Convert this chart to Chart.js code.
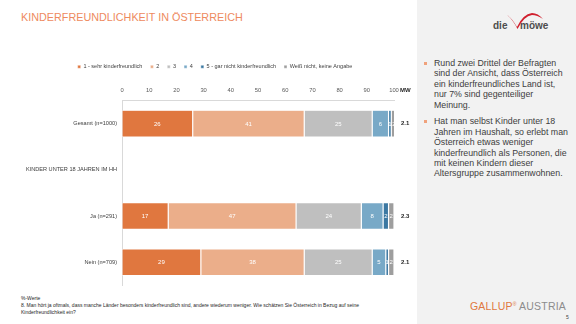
<!DOCTYPE html>
<html>
<head>
<meta charset="utf-8">
<script src="https://cdn.jsdelivr.net/npm/chart.js@4.4.1/dist/chart.umd.min.js"></script>
<style>
  html, body { margin: 0; padding: 0; background: #fff; }
  body { width: 576px; height: 324px; position: relative; overflow: hidden; font-family: "Liberation Sans", Arial, sans-serif; }
  #title { position: absolute; left: 21px; top: 11px; font-size: 10.8px; color: #EE8A5E; }
  #panel { position: absolute; left: 417px; top: 0; width: 159px; height: 324px; background: #F2F2F2; }
  #bullets { position: absolute; left: 424px; top: 58px; width: 152px; font-size: 8.8px; line-height: 10.4px; color: #404040; white-space: nowrap; }
  #bullets p { margin: 0 0 6.3px 0; padding-left: 10px; position: relative; }
  #bullets p::before { content: ""; position: absolute; left: 0; top: 4px; width: 2.5px; height: 2.5px; background: #F0A27C; }
  #logo1 { position: absolute; left: 490px; top: 8px; }
  #gallup { position: absolute; left: 470px; top: 300px; font-size: 10.5px; letter-spacing: 0.2px; }
  #gallup .g { color: #E0773F; }
  #gallup .a { color: #8C8C8C; }
  #gallup sup { font-size: 5px; color: #E0773F; }
  #page { position: absolute; left: 566px; top: 314px; font-size: 5px; color: #404040; }
  #foot { position: absolute; left: 21px; top: 295px; font-size: 5px; line-height: 7px; color: #262626; width: 350px; }
  #wrap { position: absolute; left: 0; top: 56px; width: 430px; height: 240px; }
</style>
</head>
<body>
<div id="title">KINDERFREUNDLICHKEIT IN ÖSTERREICH</div>
<div id="panel"></div>
<svg id="logo1" width="75" height="26" viewBox="0 0 75 26">
  <path d="M17 7 Q 22 10 27 19 Q 33 6 42 5 Q 48 5 53 11 Q 47 7 42 7 Q 34 8 27.5 21 Q 23 12 17 7 Z" fill="#D0202E"/>
  <text x="3" y="21" font-family="Liberation Sans, Arial" font-weight="bold" font-size="10" fill="#4D4D4D">die</text>
  <text x="30" y="21" font-family="Liberation Sans, Arial" font-weight="bold" font-size="10" fill="#4D4D4D">möwe</text>
</svg>
<div id="bullets">
  <p>Rund zwei Drittel der Befragten<br>sind der Ansicht, dass Österreich<br>ein kinderfreundliches Land ist,<br>nur 7% sind gegenteiliger<br>Meinung.</p>
  <p>Hat man selbst Kinder unter 18<br>Jahren im Haushalt, so erlebt man<br>Österreich etwas weniger<br>kinderfreundlich als Personen, die<br>mit keinen Kindern dieser<br>Altersgruppe zusammenwohnen.</p>
</div>
<div id="foot">%-Werte<br>8. Man hört ja oftmals, dass manche Länder besonders kinderfreundlich sind, andere wiederum weniger. Wie schätzen Sie Österreich in Bezug auf seine Kinderfreundlichkeit ein?</div>
<div id="gallup"><span class="g">GALLUP</span><sup>®</sup> <span class="a">AUSTRIA</span></div>
<div id="page">5</div>
<div id="wrap"><canvas id="chart"></canvas></div>

<script>
const categories = ["Gesamt (n=1000)", "KINDER UNTER 18 JAHREN IM HH", "Ja (n=291)", "Nein (n=709)"];
const seriesNames = ["1 - sehr kinderfreundlich", "2", "3", "4", "5 - gar nicht kinderfreundlich", "Weiß nicht, keine Angabe"];
const sehr = [26, null, 17, 29];
const zwei = [41, null, 47, 38];
const drei = [25, null, 24, 25];
const vier = [6, null, 8, 5];
const garNicht = [1, null, 2, 1];
const weissNicht = [2, null, 2, 2];
const mw = ["2.1", "", "2.3", "2.1"];
const xTicks = [0, 10, 20, 30, 40, 50, 60, 70, 80, 90, 100];

const colors = ["#E0773F", "#EBAE8A", "#BFBFBF", "#78A9C7", "#3B78A2", "#9E9E9E"];
const values = [sehr, zwei, drei, vier, garNicht, weissNicht];
const font = "'Liberation Sans', Arial";

const segLabels = {
    id: "segLabels",
    afterDatasetsDraw(chart) {
        const ctx = chart.ctx;
        ctx.save();
        ctx.font = "6px " + font;
        ctx.fillStyle = "#fff";
        ctx.textAlign = "center";
        ctx.textBaseline = "middle";
        chart.data.datasets.forEach((ds, i) => {
            chart.getDatasetMeta(i).data.forEach((el, j) => {
                const v = ds.data[j];
                if (v == null) return;
                ctx.fillText(v, (el.x + el.base) / 2, el.y + 0.5);
            });
        });
        // MW header on the same line as the x tick labels
        const items = chart.scales.x.getLabelItems();
        const last = items[items.length - 1];
        ctx.fillStyle = "#262626";
        ctx.font = "bold 6px " + font;
        ctx.textAlign = "left";
        ctx.textBaseline = last.options.textBaseline;
        ctx.fillText("MW", chart.chartArea.right + 6, last.options.translation[1] + last.textOffset);
        ctx.restore();
    }
};

new Chart(document.getElementById("chart").getContext("2d"), {
    type: "bar",
    data: {
        labels: categories,
        datasets: seriesNames.map((name, i) => ({
            label: name,
            data: values[i],
            backgroundColor: colors[i],
            borderColor: "rgba(255,255,255,0.7)",
            borderWidth: 0.6,
            borderSkipped: false,
            barPercentage: 0.58,
            categoryPercentage: 1
        }))
    },
    options: {
        indexAxis: "y",
        responsive: true,
        maintainAspectRatio: false,
        animation: false,
        layout: { padding: 0 },
        scales: {
            x: {
                position: "top",
                stacked: true,
                min: 0,
                max: 100,
                afterBuildTicks: s => { s.ticks = xTicks.map(v => ({ value: v })); },
                grid: { display: false, drawTicks: false },
                border: { color: "#D9D9D9" },
                ticks: { font: { size: 5.8, family: font }, color: "#595959", padding: 7 }
            },
            y: {
                stacked: true,
                grid: { display: false, drawTicks: false },
                border: { color: "#D9D9D9" },
                afterFit: s => { s.width = 122; },
                ticks: { font: { size: 5.6, family: font }, color: "#404040", padding: 5 }
            },
            yMW: {
                type: "category",
                labels: mw,
                position: "right",
                offset: true,
                grid: { display: false, drawTicks: false },
                border: { display: false },
                afterFit: s => { s.width = 36; },
                ticks: { font: { size: 6, weight: "bold", family: font }, color: "#262626", padding: 7 }
            }
        },
        plugins: {
            legend: {
                position: "top",
                labels: {
                    boxWidth: 3,
                    boxHeight: 3,
                    padding: 8,
                    color: "#404040",
                    font: { size: 5.5, family: font }
                }
            },
            tooltip: { enabled: false }
        }
    },
    plugins: [segLabels]
});
</script>
</body>
</html>
